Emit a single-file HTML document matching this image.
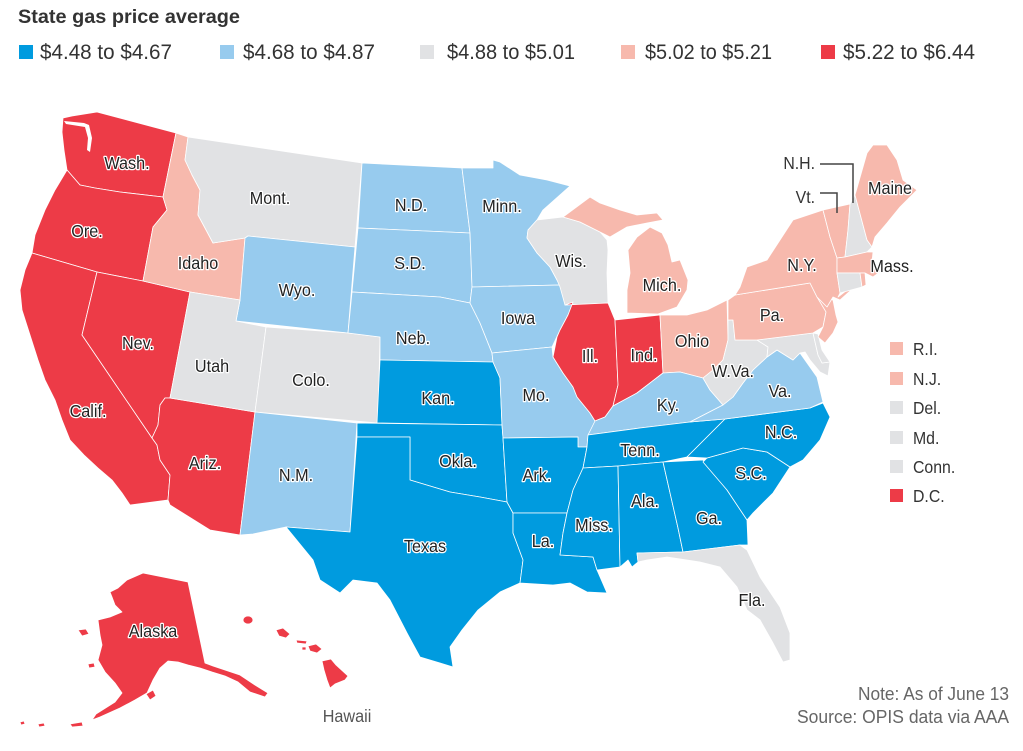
<!DOCTYPE html>
<html><head><meta charset="utf-8"><style>
html,body{margin:0;padding:0;background:#fff;}
svg{display:block;}
.s{stroke:#fff;stroke-width:0.8;stroke-linejoin:round;}
.db{fill:#009bdf}.lb{fill:#97cbee}.gr{fill:#e1e2e4}.pk{fill:#f7b9ad}.rd{fill:#ed3b47}
.lbl{font-family:"Liberation Sans",sans-serif;font-size:18px;fill:#222;stroke:#fff;stroke-width:2.6;paint-order:stroke;stroke-linejoin:round;text-anchor:middle;}
.lg{font-family:"Liberation Sans",sans-serif;font-size:21px;fill:#333;}
.rl{font-family:"Liberation Sans",sans-serif;font-size:18px;fill:#333;}
.nt{font-family:"Liberation Sans",sans-serif;font-size:18px;fill:#666;text-anchor:end;}
</style></head><body>
<svg width="1023" height="751" viewBox="0 0 1023 751" xmlns="http://www.w3.org/2000/svg">
<rect width="1023" height="751" fill="#fff"/>
<text x="18" y="23" font-family="Liberation Sans, sans-serif" font-weight="bold" font-size="19" fill="#333" textLength="222" lengthAdjust="spacingAndGlyphs">State gas price average</text>
<rect x="19" y="45" width="14" height="14" class="db"/><text class="lg" x="40" y="59" textLength="132" lengthAdjust="spacingAndGlyphs">$4.48 to $4.67</text>
<rect x="220" y="45" width="14" height="14" class="lb"/><text class="lg" x="243" y="59" textLength="132" lengthAdjust="spacingAndGlyphs">$4.68 to $4.87</text>
<rect x="420" y="45" width="14" height="14" class="gr"/><text class="lg" x="447" y="59" textLength="128" lengthAdjust="spacingAndGlyphs">$4.88 to $5.01</text>
<rect x="621" y="45" width="14" height="14" class="pk"/><text class="lg" x="645" y="59" textLength="127" lengthAdjust="spacingAndGlyphs">$5.02 to $5.21</text>
<rect x="821" y="45" width="14" height="14" class="rd"/><text class="lg" x="843" y="59" textLength="132" lengthAdjust="spacingAndGlyphs">$5.22 to $6.44</text>

<g class="s">
<!-- West -->
<polygon class="rd" points="63,118 72,116 97,112 176,133 163,197 120,192 95,188 80,185 67,170 64,150 62,132"/>
<polygon class="rd" points="67,170 80,185 95,188 120,192 163,197 167,210 153,227 143,281 97,272 32,253 35,235 45,210 55,190"/>
<polygon class="rd" points="32,253 97,272 82,335 152,438 157,445 160,460 170,475 168,500 130,505 122,493 112,480 98,468 84,455 70,440 62,420 55,400 45,380 38,360 30,335 22,310 20,290 25,270"/>
<polygon class="rd" points="97,272 143,281 190,292 170,398 165,398 160,405 158,425 152,438 82,335"/>
<polygon class="rd" points="170,398 255,412 240,535 210,530 170,505 168,500 170,475 160,460 157,445 152,438 158,425 160,405 165,398"/>
<polygon class="pk" points="176,133 188,137 185,160 192,175 200,190 198,215 205,228 213,243 245,238 240,300 190,292 143,281 153,227 167,210 163,197"/>
<polygon class="gr" points="188,137 362,163 355,247 248,236 245,238 213,243 205,228 198,215 200,190 192,175 185,160"/>
<polygon class="lb" points="248,236 355,247 348,333 236,321 240,300 245,238"/>
<polygon class="gr" points="190,292 240,300 236,321 266,327 255,412 170,398"/>
<polygon class="gr" points="266,327 348,333 380,337 378,423 255,412"/>
<polygon class="lb" points="255,412 357,423 350,532 286,527 253,534 240,535"/>
<!-- Plains -->
<polygon class="lb" points="362,163 462,168 470,233 358,228"/>
<polygon class="lb" points="358,228 470,233 472,287 470,303 440,297 352,292"/>
<polygon class="lb" points="352,292 440,297 470,303 480,323 492,353 493,362 380,360 380,337 348,333"/>
<polygon class="db" points="380,360 493,362 500,378 502,425 377,423"/>
<polygon class="db" points="357,423 502,425 503,438 507,502 480,497 450,492 410,480 410,437 357,437"/>
<polygon class="db" points="357,437 410,437 410,480 450,492 480,497 507,502 513,513 513,533 523,560 520,583 500,592 478,610 462,630 450,647 453,667 440,663 420,657 407,633 390,600 377,583 353,580 340,593 320,580 313,560 286,527 350,532"/>
<!-- Midwest -->
<polygon class="lb" points="462,168 493,168 493,160 500,162 520,175 547,180 570,186 543,210 537,220 528,230 527,238 537,253 550,267 557,280 560,285 472,287 470,233"/>
<polygon class="lb" points="472,287 560,285 573,302 568,315 560,330 552,347 492,353 480,323 470,303"/>
<polygon class="lb" points="492,353 552,347 553,357 563,373 573,387 577,397 590,413 595,421 593,432 588,436 587,447 578,447 578,437 503,438 502,425 500,378 493,362"/>
<polygon class="db" points="503,438 578,437 578,447 587,447 583,468 573,490 567,513 513,513 507,502"/>
<polygon class="db" points="513,513 567,513 563,533 560,555 593,557 597,570 607,593 587,592 570,583 553,585 520,583 523,560 513,533"/>
<polygon class="gr" points="537,220 563,217 580,222 600,232 607,240 608,250 607,273 608,303 565,305 560,287 557,280 550,267 537,253 527,238 528,230"/>
<polygon class="rd" points="565,305 608,303 615,320 618,385 613,406 605,417 595,421 590,413 577,397 573,387 563,373 553,357 557,337 560,330 568,315 573,302"/>
<polygon class="rd" points="615,320 660,315 663,373 637,393 613,406 618,385"/>
<polygon class="pk" points="660,315 687,315 707,310 727,300 728,340 723,360 713,370 703,378 680,372 663,373"/>
<polygon class="pk" points="627,313 658,314 677,307 687,290 688,280 680,260 672,262 668,245 662,233 650,227 637,237 628,250 630,273 627,290"/>
<polygon class="pk" points="563,217 590,197 600,203 620,210 637,215 657,213 663,220 647,223 627,227 610,237 600,232 580,222"/>
<!-- South -->
<polygon class="lb" points="588,435 595,421 605,417 613,406 637,393 663,373 680,372 703,378 710,390 723,405 690,422 640,428"/>
<polygon class="db" points="588,435 640,428 690,422 725,419 707,437 687,457 663,462 618,466 583,468 587,447"/>
<polygon class="db" points="583,468 618,466 620,567 597,570 593,557 560,555 563,533 567,513 573,490"/>
<polygon class="db" points="618,466 663,462 678,528 683,552 637,553 638,562 632,567 628,560 620,567"/>
<polygon class="db" points="663,462 703,460 727,490 747,520 748,545 740,545 683,552 678,528"/>
<polygon class="db" points="707,458 743,448 767,452 790,467 773,493 753,513 747,520 727,490 703,462"/>
<polygon class="db" points="725,419 810,408 823,403 830,417 820,440 803,460 790,467 767,452 743,448 707,458 687,457 707,437"/>
<polygon class="gr" points="637,553 683,552 740,545 747,550 760,577 780,607 790,633 790,660 783,662 773,643 760,620 747,610 737,587 720,567 700,562 687,560 667,557 647,560 638,562"/>
<polygon class="lb" points="690,422 723,405 733,397 743,383 753,370 767,357 777,350 793,360 800,353 817,377 823,402 810,408 725,419"/>
<polygon class="gr" points="728,320 733,320 735,340 757,340 768,347 767,357 753,370 743,383 733,397 723,405 710,390 703,378 713,370 723,360 728,340"/>
<!-- Northeast -->
<polygon class="gr" points="757,340 813,333 818,355 822,363 830,362 828,376 820,372 810,360 805,352 800,353 793,360 777,350 767,357 768,347"/>
<polygon class="gr" points="813,333 818,334 822,350 830,362 822,363 818,355"/>
<polygon class="pk" points="728,300 735,295 810,283 817,297 827,307 823,327 813,333 757,340 735,340 733,320 728,320"/>
<polygon class="pk" points="817,297 833,300 836,315 838,322 833,333 825,343 818,337 823,327 826,312"/>
<polygon class="pk" points="735,295 740,287 747,267 767,260 780,240 793,220 823,210 830,237 837,258 837,273 840,293 838,297 847,290 860,282 840,300 833,297 827,307 817,297 810,283"/>
<polygon class="pk" points="823,210 850,204 848,230 845,257 837,258 830,237"/>
<polygon class="gr" points="850,204 855,195 867,240 872,247 867,252 845,257 848,230"/>
<polygon class="pk" points="855,195 867,153 873,145 887,145 897,160 903,180 917,190 900,207 887,223 875,237 872,247 867,240"/>
<polygon class="pk" points="837,258 845,257 867,252 873,252 872,262 880,272 873,277 865,273 837,273"/>
<polygon class="gr" points="837,273 860,273 862,287 840,293"/>
<polygon class="pk" points="860,273 865,273 866,285 862,287"/>
<!-- Alaska -->
<polygon class="rd" points="110,592 118,588 127,580 143,573 188,582 205,663 213,666 225,670 240,675 255,685 268,693 265,697 250,692 238,682 225,676 212,672 200,668 188,665 178,662 168,661 160,668 153,680 147,693 135,700 120,708 100,717 92,720 96,714 115,702 122,693 115,683 105,672 98,660 102,645 100,635 98,620 110,617 122,612 115,605 112,597"/>
<polygon class="rd" points="78,630 86,629 89,634 82,636"/>
<polygon class="rd" points="88,664 94,663 95,667 89,668"/>
<polygon class="rd" points="146,694 153,690 156,696 150,700"/>
<polygon class="rd" points="70,724 82,722 83,726 72,727"/>
<polygon class="rd" points="38,724 44,723 45,726 39,727"/>
<polygon class="rd" points="20,722 24,721 25,724 21,725"/>
<!-- Hawaii -->
<ellipse class="rd" cx="248" cy="620" rx="5" ry="4"/>
<polygon class="rd" points="276,630 283,628 290,634 286,638 279,636"/>
<polygon class="rd" points="296,640 307,641 306,644 297,643"/>
<polygon class="rd" points="308,646 316,644 322,649 317,653 310,651"/>
<polygon class="rd" points="302,647 306,647 306,650 302,650"/>
<polygon class="rd" points="322,661 331,659 336,665 348,676 345,680 335,684 330,688 327,680 324,670"/>
</g>
<!-- Puget Sound -->
<polygon points="64,121 84,123 89,125 92,138 90,152 87,150 88,138 85,127 66,124" fill="#fff"/>

<!-- leader lines -->
<polyline points="820,164 853,164 853,203" fill="none" stroke="#444" stroke-width="1.5"/>
<polyline points="820,193 837,193 837,213" fill="none" stroke="#444" stroke-width="1.5"/>

<!-- Labels -->
<g class="lbl">
<text transform="translate(127,169) scale(.9,1)">Wash.</text>
<text transform="translate(87,237) scale(.9,1)">Ore.</text>
<text transform="translate(270,204) scale(.9,1)">Mont.</text>
<text transform="translate(411,211) scale(.9,1)">N.D.</text>
<text transform="translate(502,212) scale(.9,1)">Minn.</text>
<text transform="translate(198,269) scale(.9,1)">Idaho</text>
<text transform="translate(410,269) scale(.9,1)">S.D.</text>
<text transform="translate(297,296) scale(.9,1)">Wyo.</text>
<text transform="translate(571,267) scale(.9,1)">Wis.</text>
<text transform="translate(662,291) scale(.9,1)">Mich.</text>
<text transform="translate(802,271) scale(.9,1)">N.Y.</text>
<text transform="translate(892,272) scale(.9,1)">Mass.</text>
<text transform="translate(890,194) scale(.9,1)">Maine</text>
<text transform="translate(772,321) scale(.9,1)">Pa.</text>
<text transform="translate(518,324) scale(.9,1)">Iowa</text>
<text transform="translate(413,344) scale(.9,1)">Neb.</text>
<text transform="translate(138,349) scale(.9,1)">Nev.</text>
<text transform="translate(212,372) scale(.9,1)">Utah</text>
<text transform="translate(311,386) scale(.9,1)">Colo.</text>
<text transform="translate(88,417) scale(.9,1)">Calif.</text>
<text transform="translate(590,362) scale(.9,1)">Ill.</text>
<text transform="translate(644,361) scale(.9,1)">Ind.</text>
<text transform="translate(692,347) scale(.9,1)">Ohio</text>
<text transform="translate(733,377) scale(.9,1)">W.Va.</text>
<text transform="translate(780,397) scale(.9,1)">Va.</text>
<text transform="translate(438,404) scale(.9,1)">Kan.</text>
<text transform="translate(536,401) scale(.9,1)">Mo.</text>
<text transform="translate(668,411) scale(.9,1)">Ky.</text>
<text transform="translate(781,438) scale(.9,1)">N.C.</text>
<text transform="translate(640,456) scale(.9,1)">Tenn.</text>
<text transform="translate(458,467) scale(.9,1)">Okla.</text>
<text transform="translate(537,481) scale(.9,1)">Ark.</text>
<text transform="translate(296,481) scale(.9,1)">N.M.</text>
<text transform="translate(205,469) scale(.9,1)">Ariz.</text>
<text transform="translate(751,479) scale(.9,1)">S.C.</text>
<text transform="translate(645,507) scale(.9,1)">Ala.</text>
<text transform="translate(709,524) scale(.9,1)">Ga.</text>
<text transform="translate(594,531) scale(.9,1)">Miss.</text>
<text transform="translate(543,547) scale(.9,1)">La.</text>
<text transform="translate(425,552) scale(.9,1)">Texas</text>
<text transform="translate(752,606) scale(.9,1)">Fla.</text>
<text transform="translate(153,637) scale(.9,1)">Alaska</text>
</g>
<g font-family="Liberation Sans, sans-serif" font-size="18" fill="#333" text-anchor="end">
<text transform="translate(815,169) scale(.88,1)">N.H.</text>
<text transform="translate(815,203) scale(.88,1)">Vt.</text>
</g>
<text transform="translate(347,722) scale(.9,1)" font-family="Liberation Sans, sans-serif" font-size="18" fill="#555" text-anchor="middle">Hawaii</text>

<!-- right legend -->
<rect x="890" y="342" width="13" height="13" class="pk"/><text class="rl" transform="translate(913,355) scale(.88,1)">R.I.</text>
<rect x="890" y="372" width="13" height="13" class="pk"/><text class="rl" transform="translate(913,385) scale(.88,1)">N.J.</text>
<rect x="890" y="401" width="13" height="13" class="gr"/><text class="rl" transform="translate(913,414) scale(.88,1)">Del.</text>
<rect x="890" y="431" width="13" height="13" class="gr"/><text class="rl" transform="translate(913,444) scale(.88,1)">Md.</text>
<rect x="890" y="460" width="13" height="13" class="gr"/><text class="rl" transform="translate(913,473) scale(.88,1)">Conn.</text>
<rect x="890" y="489" width="13" height="13" class="rd"/><text class="rl" transform="translate(913,502) scale(.88,1)">D.C.</text>

<!-- notes -->
<text class="nt" x="1009" y="700" textLength="151" lengthAdjust="spacingAndGlyphs">Note: As of June 13</text>
<text class="nt" x="1009" y="723" textLength="212" lengthAdjust="spacingAndGlyphs">Source: OPIS data via AAA</text>
</svg>
</body></html>
